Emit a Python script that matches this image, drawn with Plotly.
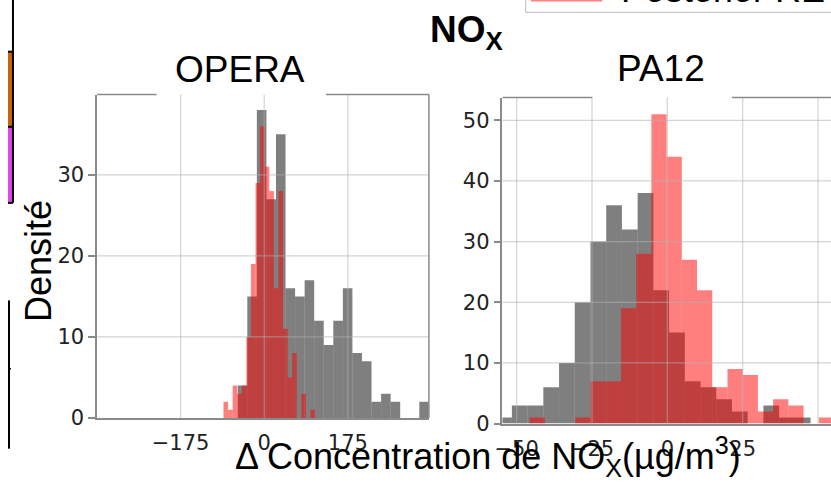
import plotly.graph_objects as go

W, H = 831, 487

# ---------------- data ----------------
opera_gray_counts = [4, 15, 38, 27, 35, 16, 15, 17, 12, 9, 12, 16, 8, 7, 2, 3, 2, 0, 0, 2]
opera_gray_start = -55.4
opera_gray_width = 20.0
opera_red_counts = [2, 1, 4, 3, 4, 10, 19, 29, 36, 31, 28, 16, 28, 11, 5, 8, 0, 3, 0, 1]
opera_red_start = -85.2
opera_red_width = 9.58

pa12_gray_counts = [1, 3, 3, 6, 10, 20, 30, 36, 32, 38, 22, 15, 7, 6, 4, 2, 0, 3, 1, 1]
pa12_gray_start = -56.8
pa12_gray_width = 5.216
pa12_red_counts = [1, 0, 0, 1, 7, 7, 19, 28, 51, 44, 27, 22, 6, 9, 8, 2, 4, 3, 0, 1]
pa12_red_start = -45.7
pa12_red_width = 5.05

opera_xticks = [-175, 0, 175]
pa12_xticks = [-50, -25, 0, 25, 50]
opera_yticks = [0, 10, 20, 30]
pa12_yticks = [0, 10, 20, 30, 40, 50]

panel_titles = ["OPERA", "PA12"]
main_title = "<b>NO<sub>X</sub></b>"
x_label = "Δ Concentration de NO<sub>X</sub>(µg/m<sup>3</sup>)"
y_label = "Densité"
legend_text = "Posterior RE"

GRAY = "rgba(0,0,0,0.5)"
RED = "rgba(255,0,0,0.5)"
SPINE = "#8a8a8a"
GRID = "rgba(176,176,176,0.55)"
TICKFONT = dict(family="DejaVu Sans", size=21, color="#222222")
TEXTFONT = "Liberation Sans, Arial, sans-serif"


def fx(px):
    return px / W


def fy(py):
    return 1 - py / H


def hist_bar(counts, start, width, color, xa, ya):
    centers = [start + width * (i + 0.5) for i in range(len(counts))]
    return go.Bar(x=centers, y=counts, width=[width] * len(counts),
                  marker=dict(color=color, line=dict(width=0)),
                  xaxis=xa, yaxis=ya, hoverinfo="skip")


def tick_text(vals):
    return [("\u2212" + str(abs(v))) if v < 0 else str(v) for v in vals]


fig = go.Figure()
fig.add_trace(hist_bar(opera_gray_counts, opera_gray_start, opera_gray_width, GRAY, "x", "y"))
fig.add_trace(hist_bar(opera_red_counts, opera_red_start, opera_red_width, RED, "x", "y"))
fig.add_trace(hist_bar(pa12_gray_counts, pa12_gray_start, pa12_gray_width, GRAY, "x2", "y2"))
fig.add_trace(hist_bar(pa12_red_counts, pa12_red_start, pa12_red_width, RED, "x2", "y2"))

# panel geometry (pixels)
op_l, op_r, op_t, op_b = 90, 425, 97, 428.5
pa_l, pa_r, pa_t, pa_b = 499.3, 831, 100, 434.3

common_x = dict(showgrid=False, zeroline=False, showline=True, linecolor=SPINE,
                linewidth=1.5, ticks="", tickfont=TICKFONT, ticklabelstandoff=5)
common_y = dict(showgrid=False, zeroline=False, showline=True, linecolor=SPINE,
                linewidth=1.5, ticks="outside", ticklen=7, tickwidth=1.5,
                tickcolor=SPINE, tickfont=TICKFONT)

fig.update_layout(
    width=W, height=H, margin=dict(l=0, r=0, t=0, b=0),
    paper_bgcolor="white", plot_bgcolor="rgba(0,0,0,0)",
    barmode="overlay", showlegend=False,
    xaxis=dict(domain=[fx(op_l), fx(op_r)], range=[-349.7, 344.7], anchor="y",
               tickvals=opera_xticks, ticktext=tick_text(opera_xticks), **common_x),
    yaxis=dict(domain=[fy(op_b), fy(op_t)], range=[0, 39.9], anchor="x",
               tickvals=opera_yticks, ticktext=tick_text(opera_yticks), **common_y),
    xaxis2=dict(domain=[fx(pa_l), fx(pa_r)], range=[-54.7, 54.3], anchor="y2",
                tickvals=pa12_xticks, ticktext=tick_text(pa12_xticks), **common_x),
    yaxis2=dict(domain=[fy(pa_b), fy(pa_t)], range=[0, 53.75], anchor="x2",
                tickvals=pa12_yticks, ticktext=tick_text(pa12_yticks), **common_y),
)

shapes = []
# grid lines drawn above the bars (matplotlib style)
for v in opera_xticks:
    shapes.append(dict(type="line", xref="x", yref="y domain", x0=v, x1=v, y0=0, y1=1,
                       line=dict(color=GRID, width=1.2), layer="above"))
for v in opera_yticks[1:]:
    shapes.append(dict(type="line", xref="x domain", yref="y", x0=0, x1=1, y0=v, y1=v,
                       line=dict(color=GRID, width=1.2), layer="above"))
for v in pa12_xticks:
    shapes.append(dict(type="line", xref="x2", yref="y2 domain", x0=v, x1=v, y0=0, y1=1,
                       line=dict(color=GRID, width=1.2), layer="above"))
for v in pa12_yticks[1:]:
    shapes.append(dict(type="line", xref="x2 domain", yref="y2", x0=0, x1=1, y0=v, y1=v,
                       line=dict(color=GRID, width=1.2), layer="above"))


def pline(x0, y0, x1, y1, color=SPINE, width=1.5):
    return dict(type="line", xref="paper", yref="paper", x0=fx(x0), x1=fx(x1),
                y0=fy(y0), y1=fy(y1), line=dict(color=color, width=width), layer="above")


def prect(x0, y0, x1, y1, fill):
    return dict(type="rect", xref="paper", yref="paper", x0=fx(x0), x1=fx(x1),
                y0=fy(y1), y1=fy(y0), fillcolor=fill, line=dict(width=0),
                layer="above")


# top spines broken by the title boxes, right spine of OPERA
shapes.append(pline(op_l, op_t, 150, op_t))
shapes.append(pline(321, op_t, op_r, op_t))
shapes.append(pline(op_r, op_t, op_r, op_b))
shapes.append(pline(pa_l, pa_t, 590, pa_t))
shapes.append(pline(731, pa_t, 831, pa_t))

# clipped legend of the figure (top)
shapes.append(prect(522.7, 0, 831, 12.7, "white"))
shapes.append(pline(522.7, 0, 522.7, 12.7, color="#c8c8c8", width=1.2))
shapes.append(pline(522.7, 12.7, 831, 12.7, color="#c8c8c8", width=1.2))
shapes.append(prect(528, 0, 600, 1.5, "#ff8080"))
# clipped colour boxes on the left edge
shapes.append(prect(0, 53, 5, 130, "#c8650a"))
shapes.append(prect(0, 130, 5, 208, "#e444e8"))
shapes.append(pline(5, 0, 5, 208, color="black", width=2))
shapes.append(pline(0, 53, 5, 53, color="black", width=2))
shapes.append(pline(0, 130, 5, 130, color="black", width=2))
shapes.append(pline(0, 208, 5, 208, color="black", width=2))
shapes.append(pline(1, 308, 1, 460, color="black", width=2))
shapes.append(pline(0, 378, 3, 378, color="black", width=1.5))

fig.update_layout(shapes=shapes)

ann = []
ann.append(dict(text=panel_titles[0], x=fx(234), y=fy(71), xref="paper", yref="paper",
                showarrow=False, xanchor="center", yanchor="middle",
                font=dict(family=TEXTFONT, size=37, color="black")))
ann.append(dict(text=panel_titles[1], x=fx(659.5), y=fy(70), xref="paper", yref="paper",
                showarrow=False, xanchor="center", yanchor="middle",
                font=dict(family=TEXTFONT, size=37, color="black")))
ann.append(dict(text=main_title, x=fx(463), y=fy(33), xref="paper", yref="paper",
                showarrow=False, xanchor="center", yanchor="middle",
                font=dict(family=TEXTFONT, size=37, color="black")))
ann.append(dict(text=x_label, x=fx(485), y=fy(468), xref="paper", yref="paper",
                showarrow=False, xanchor="center", yanchor="middle",
                font=dict(family=TEXTFONT, size=36, color="black")))
ann.append(dict(text=y_label, x=fx(31), y=fy(268), xref="paper", yref="paper",
                showarrow=False, xanchor="center", yanchor="middle", textangle=-90,
                font=dict(family=TEXTFONT, size=36, color="black")))
ann.append(dict(text=legend_text, x=fx(617), y=fy(12), xref="paper", yref="paper",
                showarrow=False, xanchor="left", yanchor="bottom",
                font=dict(family=TEXTFONT, size=36, color="black")))
fig.update_layout(annotations=ann)

fig.write_html("out.html")
